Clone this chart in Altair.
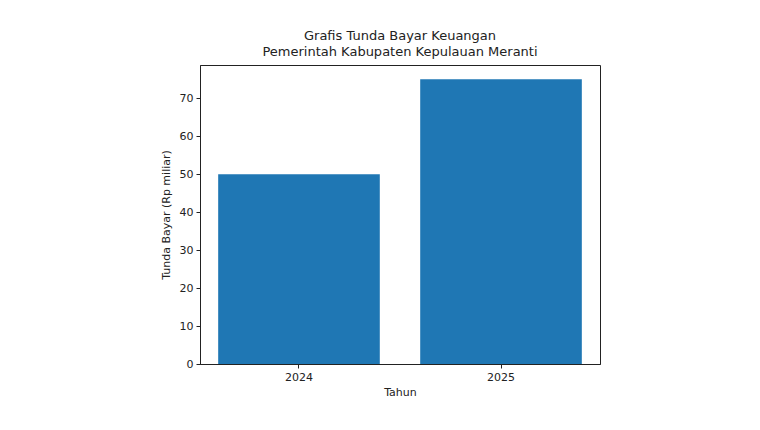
import altair as alt
import pandas as pd

years = ["2024", "2025"]
values = [50, 75]

df = pd.DataFrame({"Tahun": years, "Nilai": values})

FONT = "DejaVu Sans"

chart = alt.Chart(df).mark_bar(color="#1f77b4").encode(
    x=alt.X("Tahun:N", title="Tahun",
            scale=alt.Scale(paddingInner=0.2, paddingOuter=0.09),
            axis=alt.Axis(labelAngle=0, labelFontSize=11, titleFontSize=11,
                          labelColor="#222", titleColor="#222",
                          tickColor="#222", domainColor="#222",
                          tickSize=4, labelPadding=3, titlePadding=4,
                          labelFont=FONT, titleFont=FONT, titleFontWeight="normal")),
    y=alt.Y("Nilai:Q", title="Tunda Bayar (Rp miliar)",
            scale=alt.Scale(domain=[0, 78.75], nice=False),
            axis=alt.Axis(values=[0, 10, 20, 30, 40, 50, 60, 70], grid=False,
                          labelFontSize=11, titleFontSize=11,
                          labelColor="#222", titleColor="#222",
                          tickColor="#222", domainColor="#222",
                          tickSize=4, labelPadding=3, titlePadding=8,
                          labelFont=FONT, titleFont=FONT, titleFontWeight="normal")),
).properties(
    width=400,
    height=299,
    title=alt.TitleParams(
        ["Grafis Tunda Bayar Keuangan", "Pemerintah Kabupaten Kepulauan Meranti"],
        font=FONT, fontSize=13, fontWeight="normal", color="#222",
        anchor="middle", offset=6, lineHeight=16,
    ),
    autosize=alt.AutoSizeParams(type="none"),
    padding={"left": 192, "top": 57, "right": 150, "bottom": 60},
).configure_view(
    stroke="#222", strokeWidth=1
)

chart.save("out.html", embed_options={"renderer": "svg", "actions": False})
